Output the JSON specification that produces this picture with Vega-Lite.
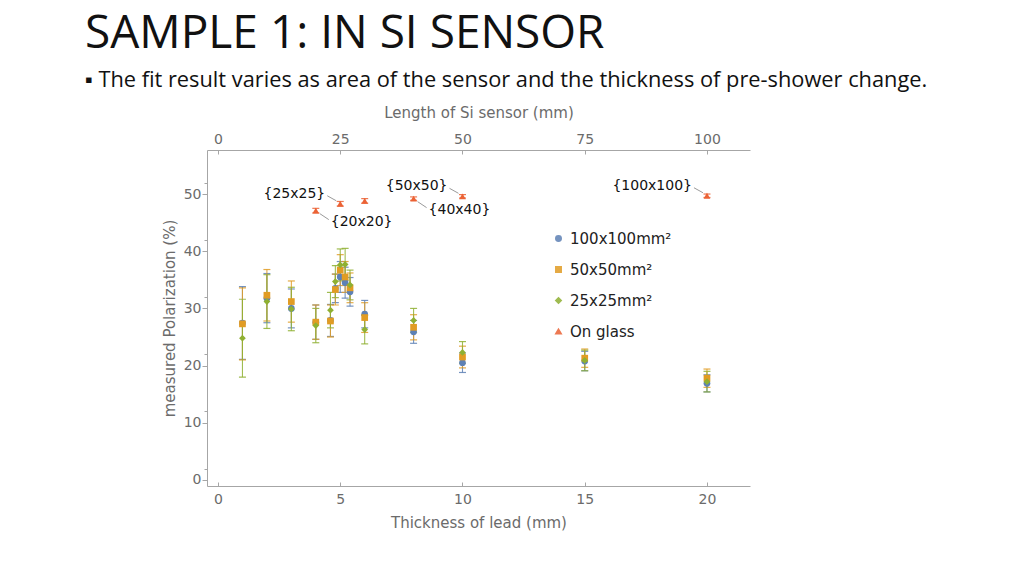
{
  "$schema": "https://vega.github.io/schema/vega-lite/v6.json",
  "width": 543,
  "height": 336,
  "autosize": {"type": "none"},
  "padding": {"left": 207, "top": 150, "right": 274, "bottom": 90},
  "background": "white",
  "title": {
    "text": "SAMPLE 1: IN SI SENSOR",
    "subtitle": "▪  The fit result varies as area of the sensor and the thickness of pre-shower change.",
    "anchor": "start",
    "frame": "group",
    "dx": -122,
    "offset": 12,
    "font": "Open Sans",
    "fontSize": 46,
    "fontWeight": "normal",
    "color": "#111111",
    "subtitleFont": "Open Sans",
    "subtitleFontSize": 21.8,
    "subtitleColor": "#111111",
    "subtitlePadding": 12
  },
  "config": {
    "view": {"stroke": null},
    "axis": {
      "grid": false,
      "labelFont": "DejaVu Sans",
      "labelFontSize": 14,
      "labelColor": "#6b6b6b",
      "titleFont": "DejaVu Sans",
      "titleFontSize": 15,
      "titleFontWeight": "normal",
      "titleColor": "#6b6b6b",
      "domainColor": "#a6a6a6",
      "tickColor": "#a6a6a6",
      "labelFlush": false,
      "labelOverlap": false
    },
    "legend": {
      "orient": "none",
      "legendX": 344,
      "legendY": 81,
      "padding": 0,
      "labelFont": "DejaVu Sans",
      "labelFontSize": 15,
      "labelColor": "#222222",
      "symbolSize": 30,
      "rowPadding": 15,
      "labelOffset": 4
    }
  },
  "datasets": {
    "sensors": [
      {"s": "100x100mm²", "t": 1, "y": 27.45, "e": 6.35},
      {"s": "100x100mm²", "t": 2, "y": 31.8, "e": 4.3},
      {"s": "100x100mm²", "t": 3, "y": 30.0, "e": 3.4},
      {"s": "100x100mm²", "t": 4, "y": 27.6, "e": 3.0},
      {"s": "100x100mm²", "t": 4.6, "y": 27.9, "e": 2.8},
      {"s": "100x100mm²", "t": 4.8, "y": 33.5, "e": 2.5},
      {"s": "100x100mm²", "t": 5, "y": 35.5, "e": 2.7},
      {"s": "100x100mm²", "t": 5.2, "y": 34.5, "e": 2.7},
      {"s": "100x100mm²", "t": 5.4, "y": 32.9, "e": 2.5},
      {"s": "100x100mm²", "t": 6, "y": 29.0, "e": 2.4},
      {"s": "100x100mm²", "t": 8, "y": 25.9, "e": 2.0},
      {"s": "100x100mm²", "t": 10, "y": 20.5, "e": 1.7},
      {"s": "100x100mm²", "t": 15, "y": 20.8, "e": 1.7},
      {"s": "100x100mm²", "t": 20, "y": 16.9, "e": 1.5},
      {"s": "50x50mm²", "t": 1, "y": 27.3, "e": 6.3},
      {"s": "50x50mm²", "t": 2, "y": 32.3, "e": 4.5},
      {"s": "50x50mm²", "t": 3, "y": 31.2, "e": 3.6},
      {"s": "50x50mm²", "t": 4, "y": 27.6, "e": 3.0},
      {"s": "50x50mm²", "t": 4.6, "y": 27.8, "e": 2.8},
      {"s": "50x50mm²", "t": 4.8, "y": 33.3, "e": 2.7},
      {"s": "50x50mm²", "t": 5, "y": 36.7, "e": 2.7},
      {"s": "50x50mm²", "t": 5.2, "y": 35.5, "e": 2.7},
      {"s": "50x50mm²", "t": 5.4, "y": 33.6, "e": 2.6},
      {"s": "50x50mm²", "t": 6, "y": 28.4, "e": 2.6},
      {"s": "50x50mm²", "t": 8, "y": 26.7, "e": 2.2},
      {"s": "50x50mm²", "t": 10, "y": 21.5, "e": 1.9},
      {"s": "50x50mm²", "t": 15, "y": 21.3, "e": 1.6},
      {"s": "50x50mm²", "t": 20, "y": 17.8, "e": 1.6},
      {"s": "25x25mm²", "t": 1, "y": 24.8, "e": 6.8},
      {"s": "25x25mm²", "t": 2, "y": 31.2, "e": 4.7},
      {"s": "25x25mm²", "t": 3, "y": 29.9, "e": 3.8},
      {"s": "25x25mm²", "t": 4, "y": 27.0, "e": 3.0},
      {"s": "25x25mm²", "t": 4.6, "y": 29.7, "e": 3.1},
      {"s": "25x25mm²", "t": 4.8, "y": 34.7, "e": 2.8},
      {"s": "25x25mm²", "t": 5, "y": 37.6, "e": 2.8},
      {"s": "25x25mm²", "t": 5.2, "y": 37.7, "e": 2.8},
      {"s": "25x25mm²", "t": 5.4, "y": 34.1, "e": 2.6},
      {"s": "25x25mm²", "t": 6, "y": 26.3, "e": 2.5},
      {"s": "25x25mm²", "t": 8, "y": 27.9, "e": 2.1},
      {"s": "25x25mm²", "t": 10, "y": 22.3, "e": 1.9},
      {"s": "25x25mm²", "t": 15, "y": 20.9, "e": 1.8},
      {"s": "25x25mm²", "t": 20, "y": 17.2, "e": 1.8}
    ],
    "glass": [
      {"s": "On glass", "len": 20, "y": 47.1, "e": 0.4, "label": "{20x20}"},
      {"s": "On glass", "len": 25, "y": 48.3, "e": 0.4, "label": "{25x25}"},
      {"s": "On glass", "len": 30, "y": 48.8, "e": 0.4, "label": ""},
      {"s": "On glass", "len": 40, "y": 49.2, "e": 0.3, "label": "{40x40}"},
      {"s": "On glass", "len": 50, "y": 49.6, "e": 0.3, "label": "{50x50}"},
      {"s": "On glass", "len": 100, "y": 49.7, "e": 0.3, "label": "{100x100}"}
    ]
  },
  "resolve": {"scale": {"x": "independent"}, "axis": {"x": "independent", "y": "independent"}},
  "layer": [
    {
      "data": {"name": "sensors"},
      "layer": [
        {
          "mark": {"type": "errorbar", "ticks": {"size": 7, "thickness": 1.2}, "thickness": 1.1, "opacity": 0.85},
          "encoding": {
            "x": {"field": "t", "type": "quantitative", "scale": {"domain": [-0.45, 21.76], "nice": false, "zero": false},
                  "axis": {"orient": "bottom", "values": [0, 5, 10, 15, 20], "title": "Thickness of lead (mm)", "tickSize": -4, "labelPadding": 10, "titlePadding": 9}},
            "y": {"field": "y", "type": "quantitative", "scale": {"domain": [-1.05, 57.7], "nice": false, "zero": false},
                  "axis": {"orient": "left", "values": [0, 10, 20, 30, 40, 50], "title": "measured Polarization (%)", "tickSize": 5, "labelPadding": 1, "titlePadding": 6}},
            "yError": {"field": "e"},
            "color": {"field": "s", "type": "nominal", "title": null,
                      "scale": {"domain": ["100x100mm²", "50x50mm²", "25x25mm²", "On glass"], "range": ["#5E81B5", "#E19C24", "#8FB032", "#EB6235"]}}
          }
        },
        {
          "mark": {"type": "point", "filled": true, "opacity": 1, "size": 45},
          "encoding": {
            "x": {"field": "t", "type": "quantitative", "scale": {"domain": [-0.45, 21.76], "nice": false, "zero": false},
                  "axis": {"orient": "bottom", "values": [0, 5, 10, 15, 20], "title": "Thickness of lead (mm)", "tickSize": -4, "labelPadding": 10, "titlePadding": 9}},
            "y": {"field": "y", "type": "quantitative", "scale": {"domain": [-1.05, 57.7], "nice": false, "zero": false},
                  "axis": {"orient": "left", "values": [0, 10, 20, 30, 40, 50], "title": "measured Polarization (%)", "tickSize": 5, "labelPadding": 1, "titlePadding": 6}},
            "color": {"field": "s", "type": "nominal", "title": null,
                      "scale": {"domain": ["100x100mm²", "50x50mm²", "25x25mm²", "On glass"], "range": ["#5E81B5", "#E19C24", "#8FB032", "#EB6235"]}},
            "shape": {"field": "s", "type": "nominal", "title": null,
                      "scale": {"domain": ["100x100mm²", "50x50mm²", "25x25mm²", "On glass"], "range": ["circle", "square", "diamond", "triangle-up"]}}
          }
        }
      ]
    },
    {
      "data": {"name": "glass"},
      "layer": [
        {
          "mark": {"type": "errorbar", "ticks": {"size": 7, "thickness": 1.2}, "thickness": 1.1, "opacity": 0.85},
          "encoding": {
            "x": {"field": "len", "type": "quantitative", "scale": {"domain": [-2.25, 108.8], "nice": false, "zero": false},
                  "axis": {"orient": "top", "values": [0, 25, 50, 75, 100], "title": "Length of Si sensor (mm)", "tickSize": -4, "labelPadding": 8, "titlePadding": 12}},
            "y": {"field": "y", "type": "quantitative", "scale": {"domain": [-1.05, 57.7], "nice": false, "zero": false},
                  "axis": {"orient": "left", "values": [2, 4, 6, 8, 12, 14, 16, 18, 22, 24, 26, 28, 32, 34, 36, 38, 42, 44, 46, 48, 52, 54, 56], "labels": false, "domain": false, "tickSize": 3, "title": null}},
            "yError": {"field": "e"},
            "color": {"field": "s", "type": "nominal", "title": null,
                      "scale": {"domain": ["100x100mm²", "50x50mm²", "25x25mm²", "On glass"], "range": ["#5E81B5", "#E19C24", "#8FB032", "#EB6235"]}}
          }
        },
        {
          "mark": {"type": "point", "filled": true, "opacity": 1, "size": 45},
          "encoding": {
            "x": {"field": "len", "type": "quantitative", "scale": {"domain": [-2.25, 108.8], "nice": false, "zero": false},
                  "axis": {"orient": "top", "values": [0, 25, 50, 75, 100], "title": "Length of Si sensor (mm)", "tickSize": -4, "labelPadding": 8, "titlePadding": 12}},
            "y": {"field": "y", "type": "quantitative", "scale": {"domain": [-1.05, 57.7], "nice": false, "zero": false},
                  "axis": {"orient": "left", "values": [2, 4, 6, 8, 12, 14, 16, 18, 22, 24, 26, 28, 32, 34, 36, 38, 42, 44, 46, 48, 52, 54, 56], "labels": false, "domain": false, "tickSize": 3, "title": null}},
            "color": {"field": "s", "type": "nominal", "title": null,
                      "scale": {"domain": ["100x100mm²", "50x50mm²", "25x25mm²", "On glass"], "range": ["#5E81B5", "#E19C24", "#8FB032", "#EB6235"]}},
            "shape": {"field": "s", "type": "nominal", "title": null,
                      "scale": {"domain": ["100x100mm²", "50x50mm²", "25x25mm²", "On glass"], "range": ["circle", "square", "diamond", "triangle-up"]}}
          }
        },
        {
          "transform": [{"filter": "datum.label == '{25x25}' || datum.label == '{50x50}' || datum.label == '{100x100}'"}],
          "mark": {"type": "rule", "color": "#9a9a9a", "strokeWidth": 1, "xOffset": -13, "yOffset": -8, "x2Offset": -4, "y2Offset": -3},
          "encoding": {
            "x": {"field": "len", "type": "quantitative"},
            "x2": {"field": "len"},
            "y": {"field": "y", "type": "quantitative"},
            "y2": {"field": "y"}
          }
        },
        {
          "transform": [{"filter": "datum.label == '{20x20}' || datum.label == '{40x40}'"}],
          "mark": {"type": "rule", "color": "#9a9a9a", "strokeWidth": 1, "xOffset": 4, "yOffset": 3, "x2Offset": 13, "y2Offset": 9},
          "encoding": {
            "x": {"field": "len", "type": "quantitative"},
            "x2": {"field": "len"},
            "y": {"field": "y", "type": "quantitative"},
            "y2": {"field": "y"}
          }
        },
        {
          "transform": [{"filter": "datum.label == '{25x25}' || datum.label == '{50x50}' || datum.label == '{100x100}'"}],
          "mark": {"type": "text", "align": "right", "baseline": "middle", "dx": -15, "dy": -10, "font": "DejaVu Sans", "fontSize": 14, "color": "#111111"},
          "encoding": {
            "x": {"field": "len", "type": "quantitative"},
            "y": {"field": "y", "type": "quantitative"},
            "text": {"field": "label"}
          }
        },
        {
          "transform": [{"filter": "datum.label == '{20x20}' || datum.label == '{40x40}'"}],
          "mark": {"type": "text", "align": "left", "baseline": "middle", "dx": 15, "dy": 11, "font": "DejaVu Sans", "fontSize": 14, "color": "#111111"},
          "encoding": {
            "x": {"field": "len", "type": "quantitative"},
            "y": {"field": "y", "type": "quantitative"},
            "text": {"field": "label"}
          }
        }
      ]
    }
  ]
}
